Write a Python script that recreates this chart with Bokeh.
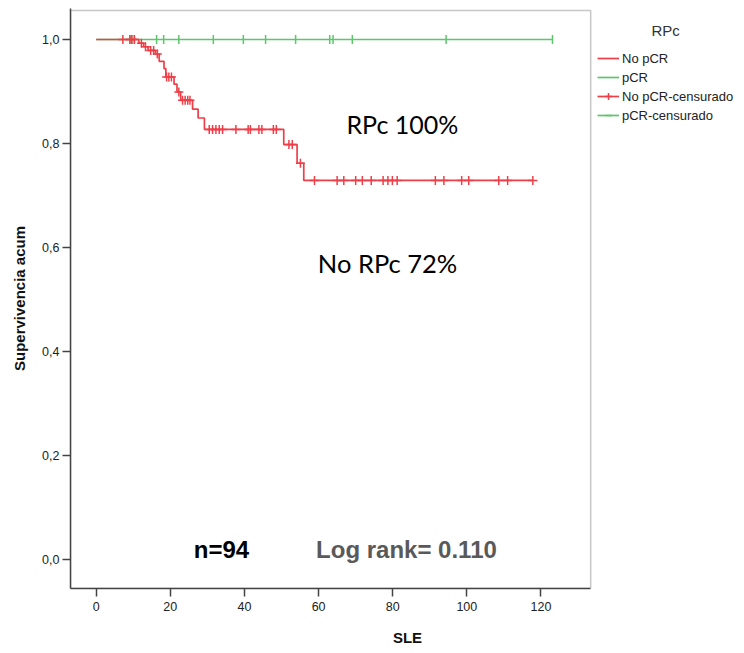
from bokeh.plotting import figure
from bokeh.models import (Range1d, Label, Legend, LegendItem, FixedTicker,
                          CustomJSTickFormatter, BoxAnnotation)
from bokeh.embed import file_html
from bokeh.resources import INLINE

# ---- data ----
# No pCR (red): event times and survival after each drop
red_event_t = [11.5, 12.8, 14.0, 16.0, 17.0, 18.3, 18.8, 21.0, 21.8, 22.8, 26.0, 27.5, 29.2, 50.6, 54.2, 56.0]
red_event_s = [0.993, 0.986, 0.979, 0.972, 0.958, 0.944, 0.928, 0.914, 0.899, 0.883, 0.866, 0.849, 0.827, 0.798, 0.762, 0.729]
# No pCR censored observations
red_cens_t = [7.2, 9.1, 9.6, 10.3,
              12.2, 13.3, 14.7, 15.5, 16.5,
              19.0, 19.6, 20.3, 22.3,
              23.3, 24.0, 24.7, 25.3,
              30.5, 31.4, 32.3, 33.2, 34.1, 37.7, 41.0, 41.6, 43.9, 44.7, 47.8, 48.6,
              52.0, 52.9, 55.1,
              58.9, 65.0, 66.8, 70.0, 71.8, 74.2, 77.4, 78.7, 79.9, 81.2, 91.5, 93.8, 98.6, 100.5, 108.6, 111.0, 117.8]
red_cens_s = [1.0, 1.0, 1.0, 1.0,
              0.993, 0.986, 0.979, 0.979, 0.972,
              0.928, 0.928, 0.928, 0.899,
              0.883, 0.883, 0.883, 0.883,
              0.827, 0.827, 0.827, 0.827, 0.827, 0.827, 0.827, 0.827, 0.827, 0.827, 0.827, 0.827,
              0.798, 0.798, 0.762,
              0.729, 0.729, 0.729, 0.729, 0.729, 0.729, 0.729, 0.729, 0.729, 0.729, 0.729, 0.729, 0.729, 0.729, 0.729, 0.729, 0.729]
# pCR (green): no events, all censored
green_cens_t = [9.1, 9.6, 10.3, 16.3, 18.2, 22.3, 31.6, 39.7, 45.7, 53.8, 63.0, 63.9, 69.1, 94.4, 123.1]
green_cens_s = [1.0] * len(green_cens_t)

x_ticks = [0, 20, 40, 60, 80, 100, 120]
y_ticks = [0.0, 0.2, 0.4, 0.6, 0.8, 1.0]

RED = "#ee3f48"
GREEN = "#5cc66b"
FRAME = "#444444"

X0, X1 = -6.93, 133.4      # visible axes box (data units)
Y0, Y1 = -0.0558, 1.0558

p = figure(width=744, height=653, output_backend="svg", toolbar_location=None,
           x_range=Range1d(X0, 174.9), y_range=Range1d(Y0, 1.0596),
           min_border_left=70, min_border_right=0, min_border_top=8, min_border_bottom=65,
           background_fill_color="white", border_fill_color="white")
p.grid.visible = False
p.outline_line_color = None

# axes box (top and right sides)
p.add_layout(BoxAnnotation(left=X0, right=X1, bottom=Y0, top=Y1, fill_color=None,
                           fill_alpha=0, line_color=FRAME, line_width=1.5))

# step curves
red_x = [0.0] + red_event_t + [max(red_cens_t)]
red_y = [1.0] + red_event_s + [red_event_s[-1]]
green_x = [0.0, max(green_cens_t)]
green_y = [1.0, 1.0]

g_step = p.step(green_x, green_y, mode="after", line_color=GREEN, line_width=1.7)
r_step = p.step(red_x, red_y, mode="after", line_color=RED, line_width=1.7)
g_cens = p.scatter(green_cens_t, green_cens_s, marker="dash", angle=1.5708, size=9,
                   line_color=GREEN, line_width=1.5)
r_cens = p.scatter(red_cens_t, red_cens_s, marker="cross", size=9, line_color=RED, line_width=1.5)

legend = Legend(items=[
    LegendItem(label="No pCR", renderers=[r_step]),
    LegendItem(label="pCR", renderers=[g_step]),
    LegendItem(label="No pCR-censurado", renderers=[r_step, r_cens]),
    LegendItem(label="pCR-censurado", renderers=[g_step, g_cens]),
], location=(527, 464), border_line_color=None, background_fill_alpha=0,
    padding=0, margin=0, spacing=1, label_height=18, glyph_height=18, glyph_width=22,
    label_standoff=3, label_text_font="Liberation Sans", label_text_font_size="13px",
    label_text_color="#222222")
p.add_layout(legend, "center")

# axes
for ax in (p.xaxis[0], p.yaxis[0]):
    ax.axis_line_color = FRAME
    ax.axis_line_width = 1.5
    ax.major_tick_line_color = FRAME
    ax.major_tick_line_width = 1.5
    ax.major_tick_in = 0
    ax.major_tick_out = 8
    ax.minor_tick_line_color = None
    ax.major_label_text_font = "Liberation Sans"
    ax.major_label_text_font_size = "12.5px"
    ax.major_label_text_color = "#222222"
    ax.axis_label_text_font = "Liberation Sans"
    ax.axis_label_text_font_style = "bold"
    ax.axis_label_text_font_size = "15px"
    ax.axis_label_text_color = "#111111"

p.xaxis.bounds = (X0, X1)
p.xaxis.ticker = FixedTicker(ticks=x_ticks)
p.yaxis.ticker = FixedTicker(ticks=y_ticks)
p.yaxis.formatter = CustomJSTickFormatter(code="return tick.toFixed(1).replace('.', ',');")
p.xaxis.axis_label = "SLE"
p.yaxis.axis_label = "Supervivencia acum"
p.xaxis.major_label_standoff = 5
p.xaxis.axis_label_standoff = 15
p.yaxis.major_label_standoff = 3
p.yaxis.axis_label_standoff = 11

# annotations
p.add_layout(Label(x=153.6, y=1.017, text="RPc", text_align="center", text_baseline="middle",
                   text_font="Liberation Sans", text_font_size="15px", text_color="#333333"))
p.add_layout(Label(x=82.6, y=0.838, text="RPc 100%", text_align="center", text_baseline="middle",
                   text_font="Lato", text_font_size="25px", text_color="#000000"))
p.add_layout(Label(x=78.6, y=0.571, text="No RPc 72%", text_align="center", text_baseline="middle",
                   text_font="Lato", text_font_size="25.5px", text_color="#000000"))
p.add_layout(Label(x=33.8, y=0.019, text="n=94", text_align="center", text_baseline="middle",
                   text_font="Liberation Sans Narrow, Liberation Sans", text_font_style="bold",
                   text_font_size="24px", text_color="#000000"))
p.add_layout(Label(x=83.7, y=0.019, text="Log rank= 0.110", text_align="center", text_baseline="middle",
                   text_font="Liberation Sans Narrow, Liberation Sans", text_font_style="bold",
                   text_font_size="24px", text_color="#595959"))

open("out.html", "w").write(file_html(p, INLINE))
